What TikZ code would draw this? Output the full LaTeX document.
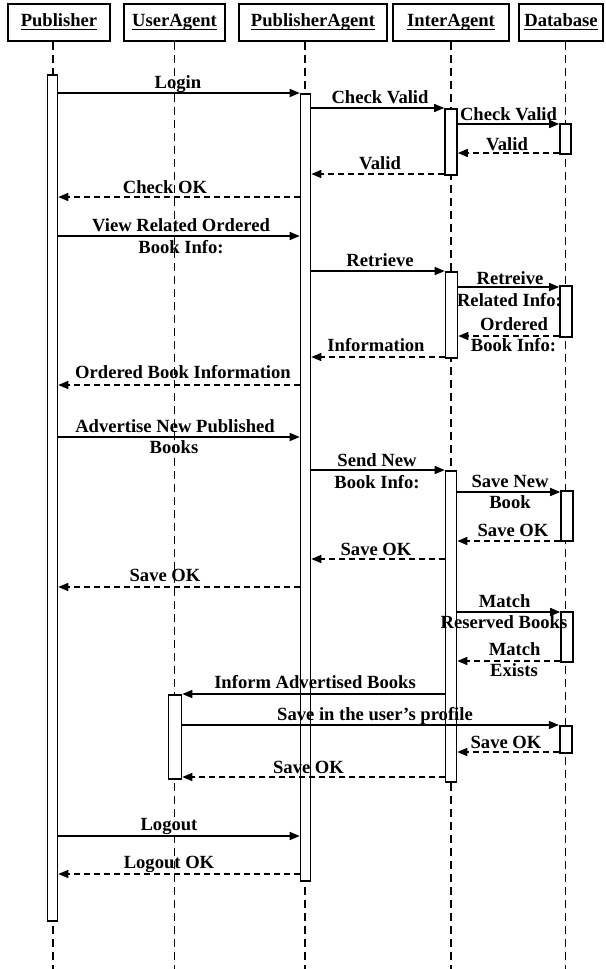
\documentclass[tikz,border=0pt]{standalone}
\usepackage{fontspec}
\setmainfont{Liberation Serif}
\usetikzlibrary{arrows.meta}
\newcommand{\hdul}[1]{\leavevmode\setbox0\hbox{#1}\rlap{\rule[-3.2pt]{\wd0}{1.5pt}}\box0}
\begin{document}
\begin{tikzpicture}[x=1pt,y=-1pt,
  every node/.style={font=\bfseries\fontsize{18.6}{21.5}\selectfont},
  head/.style={draw, line width=1.8pt, minimum height=37pt, inner sep=0pt, text height=13pt, text depth=4pt},
  lifeline/.style={line width=1.4pt, dash pattern=on 8pt off 5pt},
  actbar/.style={draw, fill=white, line width=1.6pt, inner sep=0pt, anchor=north},
  callmsg/.style={line width=1.5pt, -{Triangle[length=10pt,width=8pt]}},
  retmsg/.style={line width=1.5pt, dash pattern=on 6pt off 4pt, -{Triangle[length=10pt,width=8pt]}},
  lbl/.style={anchor=base, inner sep=0pt}
]
\useasboundingbox (0,0) rectangle (605,969);
\coordinate (bottom) at (0,969);

% header boxes
\node[head, minimum width=102pt] (pubhead) at (59,22.5) {\hdul{Publisher}};
\node[head, minimum width=101pt] (uahead) at (174.5,22.5) {\hdul{UserAgent}};
\node[head, minimum width=148pt] (pahead) at (313,22.5) {\hdul{PublisherAgent}};
\node[head, minimum width=116pt] (iahead) at (451,22.5) {\hdul{InterAgent}};
\node[head, minimum width=84pt] (dbhead) at (561,22.5) {\hdul{Database}};

% lifeline anchors
\coordinate (plx) at (53,0);
\coordinate (ulx) at (174.5,0);
\coordinate (palx) at (305,0);
\coordinate (ilx) at (451,0);
\coordinate (dlx) at (565.5,0);

\draw[lifeline] (plx |- pubhead.south) -- (plx |- bottom);
\draw[lifeline] (ulx |- uahead.south) -- (ulx |- bottom);
\draw[lifeline] (palx |- pahead.south) -- (palx |- bottom);
\draw[lifeline] (ilx |- iahead.south) -- (ilx |- bottom);
\draw[lifeline] (dlx |- dbhead.south) -- (dlx |- bottom);

% activation bars
\node[actbar, minimum width=10pt, minimum height=846pt] (pub) at (52.5,74) {};
\node[actbar, minimum width=10pt, minimum height=787pt] (pa) at (305.5,93) {};
\node[actbar, minimum width=12pt, minimum height=66pt] (ia1) at (451,108) {};
\node[actbar, minimum width=11pt, minimum height=30pt] (db1) at (565.5,123) {};
\node[actbar, minimum width=12pt, minimum height=86pt] (ia2) at (451.5,271) {};
\node[actbar, minimum width=12pt, minimum height=51pt] (db2) at (566,285) {};
\node[actbar, minimum width=11pt, minimum height=311pt] (ia3) at (451,470) {};
\node[actbar, minimum width=12pt, minimum height=50pt] (db3) at (567,490) {};
\node[actbar, minimum width=12pt, minimum height=50pt] (db4) at (567,611) {};
\node[actbar, minimum width=13pt, minimum height=84pt] (ua) at (175,694) {};
\node[actbar, minimum width=12pt, minimum height=27pt] (db5) at (565.7,725) {};

% messages
\draw[callmsg] (pub.east |- 0,93) -- (pa.west |- 0,93);
\draw[callmsg] (pa.east |- 0,108) -- (ia1.west |- 0,108);
\draw[callmsg] (ia1.east |- 0,124) -- (db1.west |- 0,124);
\draw[retmsg] (db1.west |- 0,153) -- (ia1.east |- 0,153);
\draw[retmsg] (ia1.west |- 0,174) -- (pa.east |- 0,174);
\draw[retmsg] (pa.west |- 0,197) -- (pub.east |- 0,197);
\draw[callmsg] (pub.east |- 0,236) -- (pa.west |- 0,236);
\draw[callmsg] (pa.east |- 0,271) -- (ia2.west |- 0,271);
\draw[callmsg] (ia2.east |- 0,287) -- (db2.west |- 0,287);
\draw[retmsg] (db2.west |- 0,336) -- (ia2.east |- 0,336);
\draw[retmsg] (ia2.west |- 0,357) -- (pa.east |- 0,357);
\draw[retmsg] (pa.west |- 0,385) -- (pub.east |- 0,385);
\draw[callmsg] (pub.east |- 0,437) -- (pa.west |- 0,437);
\draw[callmsg] (pa.east |- 0,470) -- (ia3.west |- 0,470);
\draw[callmsg] (ia3.east |- 0,492) -- (db3.west |- 0,492);
\draw[retmsg] (db3.west |- 0,541) -- (ia3.east |- 0,541);
\draw[retmsg] (ia3.west |- 0,559) -- (pa.east |- 0,559);
\draw[retmsg] (pa.west |- 0,587) -- (pub.east |- 0,587);
\draw[callmsg] (ia3.east |- 0,612) -- (db4.west |- 0,612);
\draw[retmsg] (db4.west |- 0,661) -- (ia3.east |- 0,661);
\draw[callmsg] (ia3.west |- 0,694) -- (ua.east |- 0,694);
\draw[callmsg] (ua.east |- 0,725) -- (db5.west |- 0,725);
\draw[retmsg] (db5.west |- 0,752) -- (ia3.east |- 0,752);
\draw[retmsg] (ia3.west |- 0,777) -- (ua.east |- 0,777);
\draw[callmsg] (pub.east |- 0,836) -- (pa.west |- 0,836);
\draw[retmsg] (pa.west |- 0,874) -- (pub.east |- 0,874);

% labels
\node[lbl] (l1) at (178,88) {Login};
\node[lbl] (l2) at (380,103) {Check Valid};
\node[lbl] (l3) at (508.5,120) {Check Valid};
\node[lbl] (l4) at (507,150) {Valid};
\node[lbl] (l5) at (380,169) {Valid};
\node[lbl] (l6) at (165,193) {Check OK};
\node[lbl] (l7a) at (181,231) {View Related Ordered};
\node[lbl] (l7b) at (181,253) {Book Info:};
\node[lbl] (l8) at (380,266) {Retrieve};
\node[lbl] (l9a) at (510,284) {Retreive};
\node[lbl] (l9b) at (509.5,306) {Related Info:};
\node[lbl] (l10a) at (514,330) {Ordered};
\node[lbl] (l10b) at (513.5,351) {Book Info:};
\node[lbl] (l11) at (376,351) {Information};
\node[lbl] (l12) at (183,378) {Ordered Book Information};
\node[lbl] (l13a) at (175,432) {Advertise New Published};
\node[lbl] (l13b) at (174,453) {Books};
\node[lbl] (l14a) at (377,466) {Send New};
\node[lbl] (l14b) at (377,488) {Book Info:};
\node[lbl] (l15a) at (510,487) {Save New};
\node[lbl] (l15b) at (510,508) {Book};
\node[lbl] (l16) at (513,536) {Save OK};
\node[lbl] (l17) at (376,555) {Save OK};
\node[lbl] (l18) at (165,581) {Save OK};
\node[lbl] (l19a) at (504.6,607) {Match};
\node[lbl] (l19b) at (504,628) {Reserved Books};
\node[lbl] (l20a) at (514.6,655) {Match};
\node[lbl] (l20b) at (514,676) {Exists};
\node[lbl] (l21) at (315,688) {Inform Advertised Books};
\node[lbl] (l22) at (375,720) {Save in the user’s profile};
\node[lbl] (l23) at (506,748) {Save OK};
\node[lbl] (l24) at (308.5,773) {Save OK};
\node[lbl] (l25) at (169,830) {Logout};
\node[lbl] (l26) at (169,868) {Logout OK};
\end{tikzpicture}
\end{document}
